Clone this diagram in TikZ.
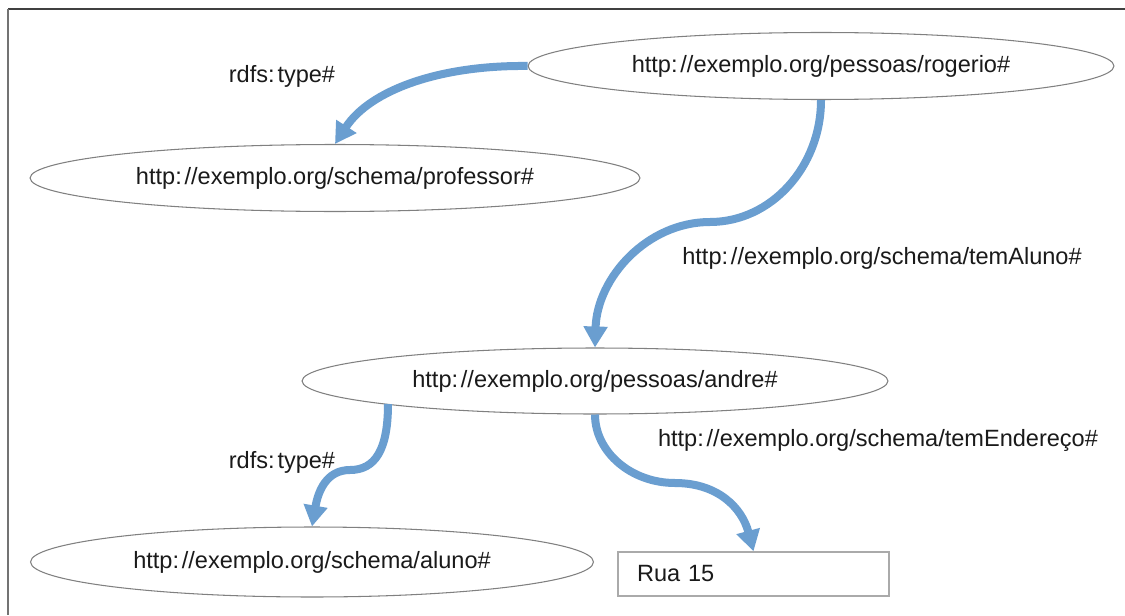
\documentclass[tikz,border=0pt]{standalone}
\usepackage{fontspec}
\setmainfont{Liberation Sans}
\usetikzlibrary{arrows.meta,shapes.geometric,calc}
\definecolor{linkblue}{RGB}{106,158,208}
\definecolor{rimgray}{RGB}{128,128,128}
\definecolor{boxgray}{RGB}{170,170,170}
\definecolor{inkgray}{RGB}{26,26,26}
% colon followed by the small gap used in the URIs
\newcommand{\cln}{:\kern1.6pt}
\tikzset{
  resource/.style={ellipse, draw=rimgray, line width=0.6pt, inner sep=0pt,
    font=\fontsize{13.4}{16}\selectfont, text=inkgray},
  literal/.style={rectangle, draw=boxgray, line width=0.8pt, inner ysep=0pt,
    inner xsep=0.38cm, text width=4.66cm, align=left,
    font=\fontsize{13.4}{16}\selectfont, text=inkgray},
  edgelabel/.style={font=\fontsize{13.4}{16}\selectfont, text=inkgray, inner sep=0pt},
  link/.style={draw=linkblue, line width=0.16cm,
    -{Triangle[width=0.46cm,length=0.42cm]}},
}
\begin{document}
\begin{tikzpicture}[x=0.02cm, y=-0.02cm]
  \useasboundingbox (0,0) rectangle (1125,615);
  \fill[white] (0,0) rectangle (1125,615);
  % outer frame (top and left edges)
  \draw[black!75, line width=1.1pt] (8,9) -- (1125,9);
  \draw[black!55, line width=1.1pt] (8,9) -- (8,615);

  % resources
  \node[resource, minimum width=11.72cm, minimum height=1.34cm] (rog)   at (821,66)  {http\cln//exemplo.org/pessoas/rogerio\#};
  \node[resource, minimum width=12.2cm,  minimum height=1.34cm] (prof)  at (335,178) {http\cln//exemplo.org/schema/professor\#};
  \node[resource, minimum width=11.72cm, minimum height=1.32cm] (andre) at (595,381) {http\cln//exemplo.org/pessoas/andre\#};
  \node[resource, minimum width=11.26cm, minimum height=1.40cm] (aluno) at (312,562) {http\cln//exemplo.org/schema/aluno\#};
  \node[literal, minimum height=0.88cm] (rua) at (753.5,574) {Rua 15};

  % property labels
  \node[edgelabel] (l1) at (282,76)  {rdfs\cln type\#};
  \node[edgelabel] (l2) at (882,258) {http\cln//exemplo.org/schema/temAluno\#};
  \node[edgelabel] (l3) at (878,440) {http\cln//exemplo.org/schema/temEndereço\#};
  \node[edgelabel] (l4) at (282,462) {rdfs\cln type\#};

  % properties
  \draw[link] (rog.west) .. controls (440,65) and (370,90) .. (prof.north);
  \draw[link] (rog.south) .. controls (821,167) and (771,222) .. (710,222)
                          .. controls (647,222) and (597,278) .. (andre.north);
  \draw[link] ($(andre.center)+(-207,23)$) .. controls (388,450) and (375,470) .. (350,470)
                          .. controls (326,470) and (318,492) .. (aluno.north);
  \draw[link] (andre.south) .. controls (595,452) and (631,483) .. (675,483)
                            .. controls (718,483) and (742,508) .. (rua.north);
\end{tikzpicture}
\end{document}
